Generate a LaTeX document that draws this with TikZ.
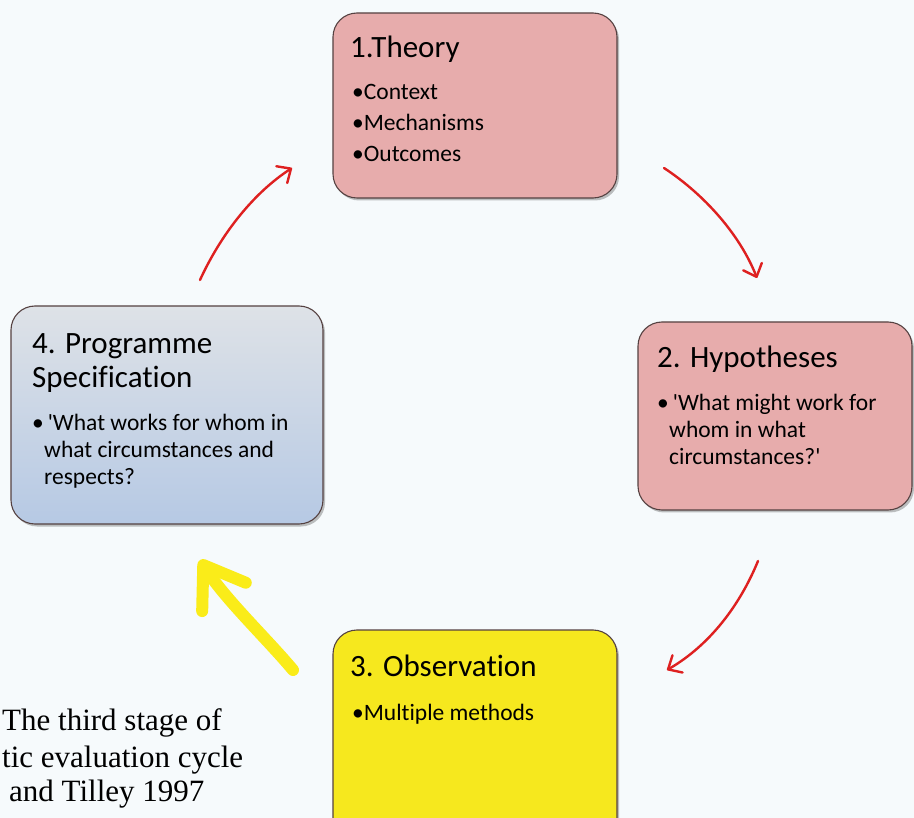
\documentclass[tikz,border=0pt]{standalone}
\usepackage{fontspec}
\setmainfont{Carlito}[Ligatures={TeX,NoCommon}]
\newfontfamily\capfont{Liberation Serif}
\usetikzlibrary{arrows.meta,shadows}
\definecolor{bg}{RGB}{246,250,252}
\definecolor{pinkbox}{RGB}{231,172,172}
\definecolor{yellowbox}{RGB}{246,232,30}
\definecolor{specTop}{RGB}{222,226,231}
\definecolor{specBot}{RGB}{182,201,228}
\definecolor{boxline}{RGB}{85,65,65}
\definecolor{arrowred}{RGB}{222,32,32}
\definecolor{arrowyellow}{RGB}{250,236,25}
\newcommand{\sq}{\textquotesingle}
\begin{document}
\begin{tikzpicture}[x=1pt,y=-1pt,
  box/.style={draw=boxline, line width=1.1pt, rounded corners=24pt, inner sep=0pt,
    drop shadow={shadow xshift=2pt, shadow yshift=-2.5pt, opacity=0.35, fill=black!70}},
  ttl/.style={anchor=base west, inner sep=0pt, font=\fontsize{31}{36}\selectfont},
  blt/.style={anchor=base west, inner sep=0pt, font=\fontsize{23.5}{27}\selectfont},
  capt/.style={anchor=base west, inner sep=0pt, font=\capfont\fontsize{31}{36}\selectfont},
  redarrow/.style={draw=arrowred, line width=2.4pt, line cap=round,
    -{Straight Barb[length=11pt,width=20pt,line cap=round,line join=round]}},
  yelarrow/.style={draw=arrowyellow, line width=12pt, line cap=round,
    -{Straight Barb[length=38pt,width=52pt,line cap=round,line join=round]}}
]
\useasboundingbox (0,0) rectangle (914,818);
\fill[bg] (0,0) rectangle (914,818);

% boxes
\node[box, fill=pinkbox, minimum width=284pt, minimum height=185pt] (b1) at (475,105.5) {};
\node[box, fill=pinkbox, minimum width=274pt, minimum height=188pt] (b2) at (775,416) {};
\node[box, fill=yellowbox, minimum width=284pt, minimum height=215pt] (b3) at (475,737.5) {};
\node[box, top color=specTop, bottom color=specBot, minimum width=312pt, minimum height=218pt] (b4) at (167,415) {};

% box 1 text
\node[ttl] (t1) at (350,58) {1.Theory};
\node[blt] (t1a) at (352,100) {•Context};
\node[blt] (t1b) at (352,131) {•Mechanisms};
\node[blt] (t1c) at (352,162) {•Outcomes};

% box 2 text
\node[ttl] (t2) at (657,368) {2. Hypotheses};
\node[blt] (t2a) at (657,411) {•\,\sq What might work for};
\node[blt] (t2b) at (669,438) {whom in what};
\node[blt] (t2c) at (669,465) {circumstances?\sq};

% box 3 text
\node[ttl] (t3) at (350,676) {3. Observation};
\node[blt] (t3a) at (352,720) {•Multiple methods};

% box 4 text
\node[ttl] (t4) at (32,354) {4. Programme};
\node[ttl] (t4b) at (32,388) {Specification};
\node[blt] (t4c) at (32,431) {•\,\sq What works for whom in};
\node[blt] (t4d) at (44,458) {what circumstances and};
\node[blt] (t4e) at (44,485) {respects?};

% caption
\node[capt] (c1) at (2,730) {The third stage of};
\node[capt] (c2) at (2,767) {tic evaluation cycle};
\node[capt] (c3) at (9,801) {and Tilley 1997};

% arrow end points
\coordinate (a1s) at (200,280);
\coordinate (a1e) at (292,168);
\coordinate (a2s) at (664,168);
\coordinate (a2e) at (757,278);
\coordinate (a3s) at (758,561);
\coordinate (a3e) at (667,670);
\coordinate (a4s) at (293,670);
\coordinate (a4e) at (200,560);

\draw[redarrow] (a1s) .. controls (222,232) and (255,192) .. (a1e);
\draw[redarrow] (a2s) .. controls (705,195) and (740,235) .. (a2e);
\draw[redarrow] (a3s) .. controls (740,605) and (710,645) .. (a3e);
\draw[yelarrow] (a4s) .. controls (268,640) and (226,600) .. (a4e);
\end{tikzpicture}
\end{document}
